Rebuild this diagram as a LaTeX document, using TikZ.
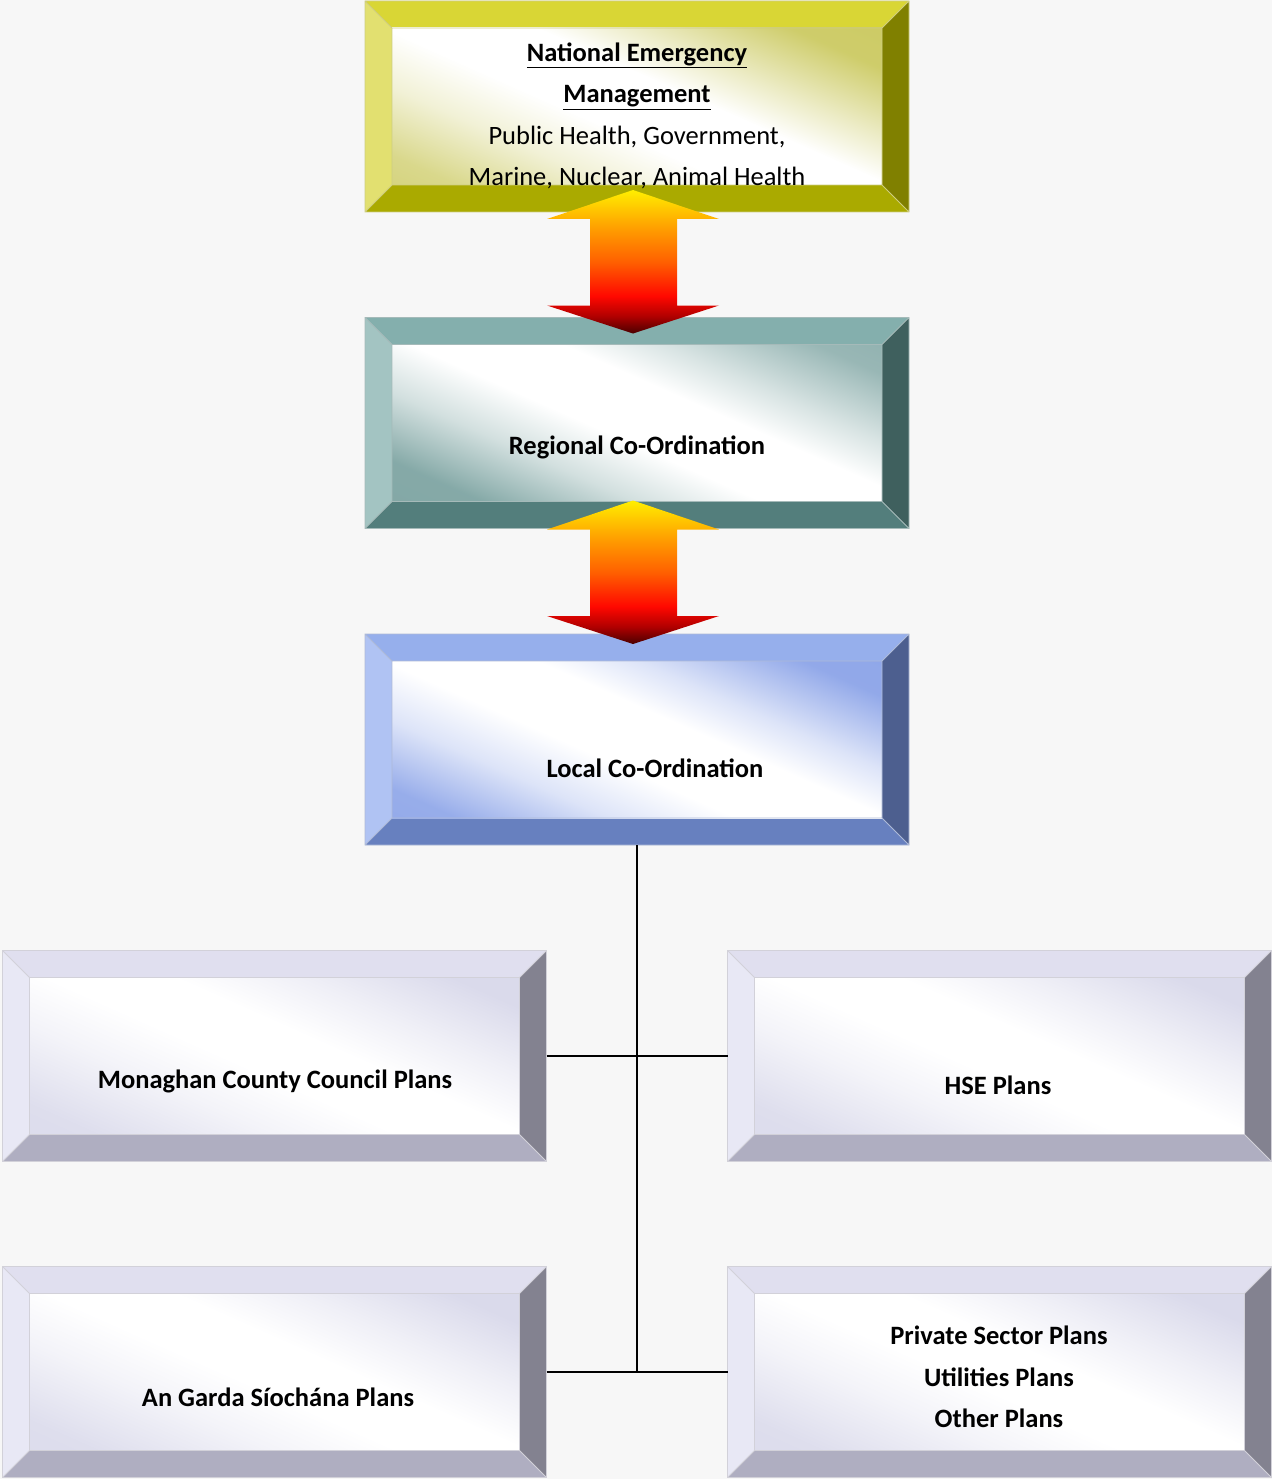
\documentclass[tikz,border=0pt]{standalone}
\usepackage{fontspec}
\setmainfont{Carlito}
\usetikzlibrary{calc}
\pgfdeclarelayer{background}
\pgfsetlayers{background,main}
% colours
\definecolor{bgC}{HTML}{F7F7F7}
\definecolor{natT}{HTML}{D9D635}\definecolor{natL}{HTML}{E2E070}\definecolor{natR}{HTML}{808000}\definecolor{natB}{HTML}{AAAA00}\definecolor{natI}{HTML}{C9C75A}
\definecolor{regT}{HTML}{84AFAD}\definecolor{regL}{HTML}{A3C4C2}\definecolor{regR}{HTML}{3F605E}\definecolor{regB}{HTML}{537E7C}\definecolor{regI}{HTML}{7FA5A3}
\definecolor{locT}{HTML}{96AFEC}\definecolor{locL}{HTML}{B0C3F3}\definecolor{locR}{HTML}{4D5F8F}\definecolor{locB}{HTML}{6780BF}\definecolor{locI}{HTML}{8CA4E8}
\definecolor{lavT}{HTML}{E0DFEF}\definecolor{lavL}{HTML}{E8E8F5}\definecolor{lavR}{HTML}{838290}\definecolor{lavB}{HTML}{AFAEC1}\definecolor{lavI}{HTML}{D8D8EA}
\definecolor{arY}{HTML}{FFEE00}\definecolor{arO}{HTML}{FFA000}\definecolor{arOr}{HTML}{FF6000}\definecolor{arR}{HTML}{FF0800}\definecolor{arDR}{HTML}{B00000}\definecolor{arD}{HTML}{4A0000}
% shadings (0bp = lower left, 100bp = upper right)
\pgfdeclareverticalshading{natsh}{100bp}{color(0bp)=(natI); color(22bp)=(natI!70!white); color(34bp)=(natI!25!white); color(44bp)=(white); color(56bp)=(white); color(64bp)=(natI!35!white); color(76bp)=(natI!90!white); color(100bp)=(natI)}
\pgfdeclareverticalshading{regsh}{100bp}{color(0bp)=(regI); color(24bp)=(regI!95!white); color(36bp)=(regI!35!white); color(46bp)=(white); color(58bp)=(white); color(66bp)=(regI!30!white); color(78bp)=(regI!80!white); color(100bp)=(regI)}
\pgfdeclareverticalshading{locsh}{100bp}{color(0bp)=(locI); color(22bp)=(locI!90!white); color(34bp)=(locI!30!white); color(44bp)=(white); color(56bp)=(white); color(64bp)=(locI!30!white); color(77bp)=(locI!95!white); color(100bp)=(locI)}
\pgfdeclareverticalshading{lavsh}{100bp}{color(0bp)=(lavI); color(22bp)=(lavI!85!white); color(36bp)=(lavI!30!white); color(46bp)=(white); color(56bp)=(white); color(66bp)=(lavI!40!white); color(78bp)=(lavI!95!white); color(100bp)=(lavI)}
\pgfdeclareverticalshading{arsh}{100bp}{color(0bp)=(arD); color(25bp)=(arD); color(31bp)=(arDR); color(38bp)=(arR); color(50bp)=(arOr); color(62bp)=(arO); color(75bp)=(arY); color(100bp)=(arY)}
\newcommand\bevelbox[6]{%
  \begin{pgfonlayer}{background}
    \coordinate (o1) at (#1.north west);
    \coordinate (o2) at (#1.north east);
    \coordinate (o3) at (#1.south east);
    \coordinate (o4) at (#1.south west);
    \coordinate (i1) at ($(o1)+(27,27)$);
    \coordinate (i2) at ($(o2)+(-27,27)$);
    \coordinate (i3) at ($(o3)+(-27,-27)$);
    \coordinate (i4) at ($(o4)+(27,-27)$);
    \fill[#2] (o1)--(o2)--(i2)--(i1)--cycle;
    \fill[#3] (o1)--(i1)--(i4)--(o4)--cycle;
    \fill[#4] (o2)--(o3)--(i3)--(i2)--cycle;
    \fill[#5] (o4)--(i4)--(i3)--(o3)--cycle;
    \shade[shading=#6, shading angle=-24] (i1) rectangle (i3);
    \draw[#2!80!black!60!white, line width=0.8pt] (o1) rectangle (o3) (i1) rectangle (i3) (o1)--(i1) (o2)--(i2) (o3)--(i3) (o4)--(i4);
  \end{pgfonlayer}}
\newcommand\blockarrow[2]{% #1 top tip, #2 bottom tip
  \shade[shading=arsh]
    (#1) -- ++(86,29) -- ++(-42,0) |- ($(#2)+(44,-28)$) -- ++(42,0) -- (#2)
    -- ++(-86,-28) -- ++(43,0) |- ($(#1)+(-43,29)$) -- ++(-43,0) -- cycle;}
\begin{document}
\begin{tikzpicture}[x=1pt,y=-1pt,
  box/.style={minimum width=544pt, minimum height=211pt, inner sep=0pt, outer sep=0pt},
  lbl/.style={font=\fontsize{26.5}{41.5}\selectfont, align=center, inner sep=0pt, text=black},
  bl/.style={font=\fontsize{26.5}{41.5}\selectfont\bfseries, align=center, inner sep=0pt, text=black},
  conn/.style={line width=2pt, black}]
\begin{pgfonlayer}{background}
\fill[bgC] (0,0) rectangle (1272,1479);
\end{pgfonlayer}
\useasboundingbox (0,0) rectangle (1272,1479);
% boxes
\node[box] (nat) at (637,106.5) {};
\node[box] (reg) at (637,423) {};
\node[box] (loc) at (637,739.5) {};
\node[box] (mon) at (274.5,1056) {};
\node[box] (hse) at (999.5,1056) {};
\node[box] (gar) at (274.5,1372) {};
\node[box] (pri) at (999.5,1372) {};
\bevelbox{nat}{natT}{natL}{natR}{natB}{natsh}
\bevelbox{reg}{regT}{regL}{regR}{regB}{regsh}
\bevelbox{loc}{locT}{locL}{locR}{locB}{locsh}
\bevelbox{mon}{lavT}{lavL}{lavR}{lavB}{lavsh}
\bevelbox{hse}{lavT}{lavL}{lavR}{lavB}{lavsh}
\bevelbox{gar}{lavT}{lavL}{lavR}{lavB}{lavsh}
\bevelbox{pri}{lavT}{lavL}{lavR}{lavB}{lavsh}
% labels
\node[lbl] (natt) at (637,116) {\textbf{\underline{National Emergency}}\\ \textbf{\underline{Management}}\\ Public Health, Government,\\ Marine, Nuclear, Animal Health};
\node[bl] (regt) at (637,447) {Regional Co-Ordination};
\node[bl] (loct) at (655,768) {Local Co-Ordination};
\node[bl] (mont) at (275,1081) {Monaghan County Council Plans};
\node[bl] (hset) at (998,1085) {HSE Plans};
\node[bl] (gart) at (278,1397) {An Garda Síochána Plans};
\node[bl] (prit) at (999,1377) {Private Sector Plans\\ Utilities Plans\\ Other Plans};
% arrows
\coordinate (a1t) at ($(nat.south)+(-4,-22)$);
\coordinate (a1b) at ($(reg.north)+(-4,16)$);
\coordinate (a2t) at ($(reg.south)+(-4,-28)$);
\coordinate (a2b) at ($(loc.north)+(-4,10)$);
\blockarrow{a1t}{a1b}
\blockarrow{a2t}{a2b}
% connectors
\draw[conn] (loc.south) -- (loc.south |- gar.east);
\draw[conn] (mon.east) -- (hse.west);
\draw[conn] (gar.east) -- (pri.west);
\end{tikzpicture}
\end{document}
